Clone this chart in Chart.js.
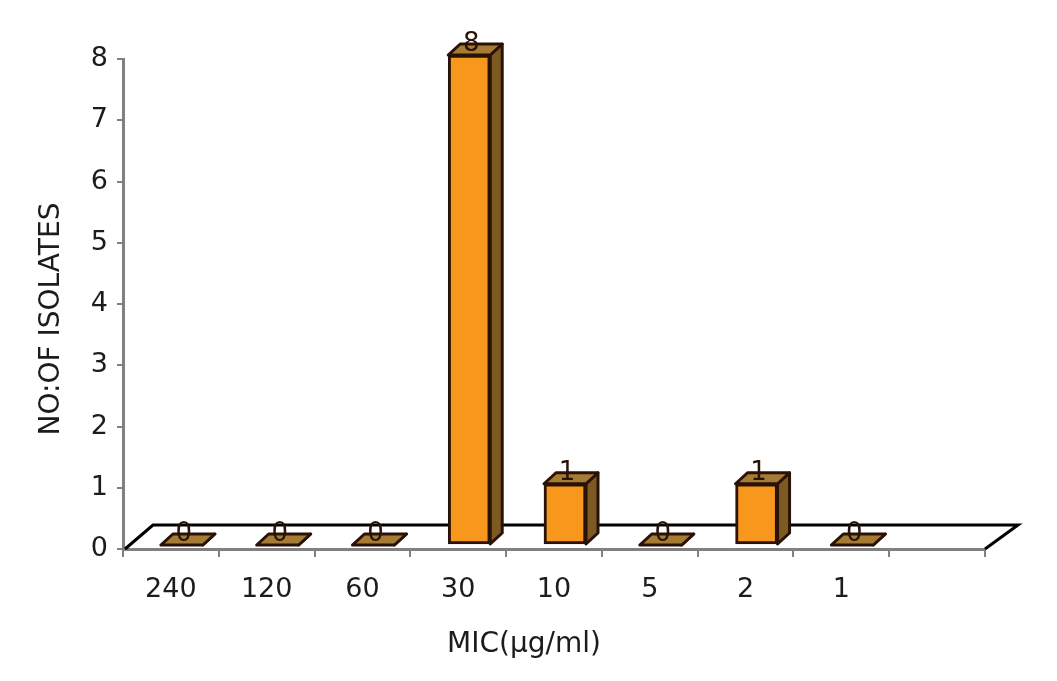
<!DOCTYPE html>
<html>
<head>
<meta charset="utf-8">
<style>
  html, body { margin: 0; background: #fff; }
  canvas { display: block; }
</style>
<script src="https://cdn.jsdelivr.net/npm/chart.js@4"></script>
</head>
<body>
<canvas id="chart" width="1057" height="681"></canvas>
<script>
/* ── Data ── */
const categories = ['240', '120', '60', '30', '10', '5', '2', '1', ''];
const isolates   = [0, 0, 0, 8, 1, 0, 1, 0, null];
const xTitle = 'MIC(µg/ml)';
const yTitle = 'NO:OF ISOLATES';

/* ── Look ── */
const FONT = '"DejaVu Sans", sans-serif';
const INK = '#1c1c1c';
const EDGE = '#2a1208';
const AXIS = '#808080';
const FRONT = '#f7981c', TOP = '#a67c34', SIDE = '#7c5a22';
const BAR_SHIFT = { x: 11, y: -4 };   // front plane of the bars sits off the axes
const BAR_DEPTH = { x: 12, y: -11 };
const FLOOR = { x: 30, y: -24 };

/* ── Fake 3D: floor, bar sides and value labels ── */
function face(ctx, pts, fill) {
  ctx.beginPath();
  pts.forEach(([x, y], i) => i ? ctx.lineTo(x, y) : ctx.moveTo(x, y));
  ctx.closePath();
  ctx.fillStyle = fill;
  ctx.fill();
  ctx.stroke();
}

const depthBars = {
  id: 'depthBars',
  beforeDatasetsDraw(chart) {
    const { ctx, chartArea: { left, right, bottom } } = chart;

    // floor
    ctx.save();
    ctx.strokeStyle = '#000';
    ctx.lineWidth = 3;
    ctx.beginPath();
    ctx.moveTo(left + 2, bottom);
    ctx.lineTo(left + FLOOR.x, bottom + FLOOR.y);
    ctx.lineTo(right + FLOOR.x + 3, bottom + FLOOR.y);
    ctx.lineTo(right, bottom);
    ctx.stroke();
    ctx.restore();

    // stays shifted until afterDatasetsDraw so the library bars move too
    ctx.save();
    ctx.translate(BAR_SHIFT.x, BAR_SHIFT.y);
    ctx.strokeStyle = EDGE;
    ctx.lineWidth = 3;
    ctx.lineJoin = 'round';
    chart.getDatasetMeta(0).data.forEach((bar, i) => {
      if (isolates[i] === null) return;
      const l = bar.x - bar.width / 2, r = bar.x + bar.width / 2;
      const dx = BAR_DEPTH.x, dy = BAR_DEPTH.y;
      face(ctx, [[r, bar.y], [r + dx, bar.y + dy], [r + dx, bar.base + dy], [r, bar.base]], SIDE);
      face(ctx, [[l, bar.y], [l + dx, bar.y + dy], [r + dx, bar.y + dy], [r, bar.y]], TOP);
    });
  },
  afterDatasetsDraw(chart) {
    const { ctx } = chart;
    ctx.font = '26px ' + FONT;
    ctx.fillStyle = EDGE;
    ctx.textAlign = 'center';
    ctx.textBaseline = 'middle';
    chart.getDatasetMeta(0).data.forEach((bar, i) => {
      if (isolates[i] === null) return;
      ctx.fillText(String(isolates[i]), bar.x + 2, bar.y - 11);
    });
    ctx.restore();
  },
  afterDraw(chart) {
    // axis titles are not centred on the axes in the source picture
    const { ctx } = chart;
    ctx.save();
    ctx.fillStyle = INK;
    ctx.font = '28px ' + FONT;
    ctx.textAlign = 'center';
    ctx.textBaseline = 'middle';
    ctx.fillText(xTitle, 524, 645);
    ctx.translate(52, 319);
    ctx.rotate(-Math.PI / 2);
    ctx.fillText(yTitle, 0, 0);
    ctx.restore();
  },
};

/* ── Chart ── */
new Chart(document.getElementById('chart'), {
  type: 'bar',
  data: {
    labels: categories,
    datasets: [{
      data: isolates,
      backgroundColor: FRONT,
      borderColor: EDGE,
      borderWidth: 3,
      borderSkipped: false,
      barThickness: 42,
      clip: false,
    }],
  },
  options: {
    responsive: false,
    animation: false,
    layout: { padding: { top: 59, right: 72, left: 0, bottom: 0 } },
    plugins: { legend: { display: false }, tooltip: { enabled: false } },
    scales: {
      x: {
        afterFit: (s) => { s.height = 132; },
        border: { color: AXIS, width: 3 },
        grid: { drawOnChartArea: false, color: AXIS, lineWidth: 2, tickLength: 8 },
        ticks: { color: INK, font: { family: FONT, size: 27 }, padding: 17, maxRotation: 0, autoSkip: false },
      },
      y: {
        min: 0,
        max: 8,
        afterFit: (s) => { s.width = 123; },
        border: { color: AXIS, width: 3 },
        grid: { drawOnChartArea: false, color: AXIS, lineWidth: 2, tickLength: 6 },
        ticks: { stepSize: 1, color: INK, font: { family: FONT, size: 27 }, padding: 9 },
      },
    },
  },
  plugins: [depthBars],
});
</script>
</body>
</html>
